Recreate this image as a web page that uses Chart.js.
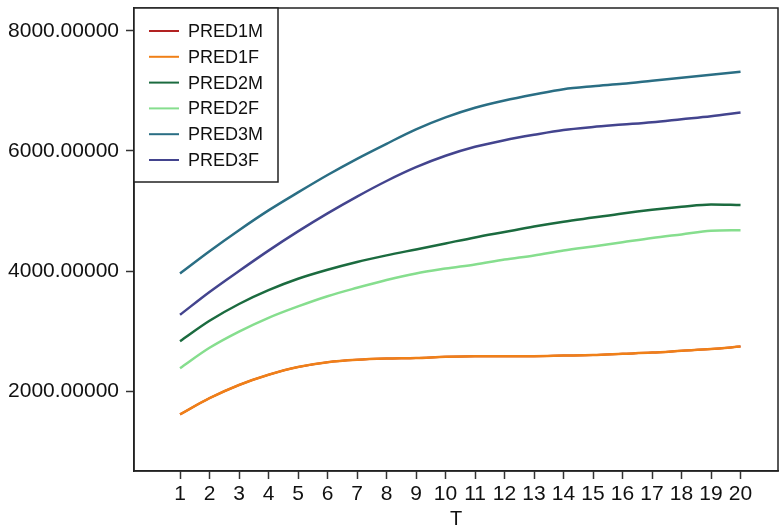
<!DOCTYPE html>
<html><head><meta charset="utf-8">
<script src="https://cdn.jsdelivr.net/npm/chart.js@4"></script>
<style>html,body{margin:0;padding:0;background:#fff}#wrap{width:779px;height:527px}</style>
</head><body><div id="wrap"><canvas id="c" width="779" height="527"></canvas></div>
<script>
const T = [1,2,3,4,5,6,7,8,9,10,11,12,13,14,15,16,17,18,19,20];
const PRED1M = [1610,1880,2100,2270,2400,2480,2520,2540,2550,2570,2580,2580,2580,2590,2600,2620,2640,2670,2700,2740];
const PRED1F = [1610,1880,2100,2270,2400,2480,2520,2540,2550,2570,2580,2580,2580,2590,2600,2620,2640,2670,2700,2740];
const PRED2M = [2830,3170,3450,3680,3870,4020,4150,4260,4360,4460,4560,4650,4740,4820,4890,4960,5020,5070,5110,5100];
const PRED2F = [2380,2720,2990,3220,3410,3580,3720,3850,3960,4040,4110,4190,4260,4340,4410,4480,4550,4610,4670,4680];
const PRED3M = [3960,4330,4680,5010,5310,5600,5870,6120,6360,6560,6720,6840,6940,7030,7080,7120,7170,7220,7270,7320];
const PRED3F = [3270,3650,4000,4340,4660,4960,5240,5500,5730,5920,6070,6180,6270,6350,6400,6440,6480,6530,6580,6640];
const yTicks = [2000,4000,6000,8000];
const seriesNames = ['PRED1M','PRED1F','PRED2M','PRED2F','PRED3M','PRED3F'];
const seriesData = [PRED1M,PRED1F,PRED2M,PRED2F,PRED3M,PRED3F];
const colors = ['#b22222','#f08018','#1b6b3f','#86de8e','#2a6e84','#43448e'];

const FONT = "'Liberation Sans', Arial, Helvetica, sans-serif";

const datasets = seriesNames.map((n,i)=>({
  label:n,
  data:T.map((t,j)=>({x:t,y:seriesData[i][j]})),
  borderColor:colors[i],
  backgroundColor:colors[i],
  borderWidth:i===0?2:2.5,
  pointRadius:0,
  cubicInterpolationMode:'monotone',
  fill:false,
  order: seriesNames.length - i
}));

const framePlugin = {
  id:'frame',
  afterDraw(chart){
    const {ctx, chartArea:a} = chart;
    ctx.save();
    ctx.strokeStyle='#222';
    ctx.lineWidth=1.5;
    ctx.strokeRect(a.left, a.top, a.right-a.left, a.bottom-a.top);
    const lx=a.left, ly=a.top, lw=144, lh=174;
    ctx.fillStyle='#fff';
    ctx.fillRect(lx,ly,lw,lh);
    ctx.strokeRect(lx,ly,lw,lh);
    ctx.font='18px '+FONT;
    ctx.textBaseline='middle';
    ctx.textAlign='left';
    seriesNames.forEach((n,i)=>{
      const y = ly + 23 + i*25.8;
      ctx.strokeStyle=colors[i];
      ctx.lineWidth=2;
      ctx.beginPath(); ctx.moveTo(lx+15,y); ctx.lineTo(lx+45,y); ctx.stroke();
      ctx.fillStyle='#111';
      ctx.fillText(n, lx+54, y+1);
    });
    ctx.restore();
  }
};

new Chart(document.getElementById('c'),{
  type:'line',
  data:{datasets},
  options:{
    responsive:false,
    animation:false,
    layout:{padding:{top:8,right:1,left:0,bottom:0}},
    plugins:{legend:{display:false},tooltip:{enabled:false}},
    scales:{
      x:{
        type:'linear',
        min:-0.56, max:21.27,
        afterBuildTicks(s){ s.ticks = T.map(v=>({value:v})); },
        ticks:{font:{family:FONT,size:21},color:'#111',padding:3,maxRotation:0,autoSkip:false,callback:v=>String(v)},
        grid:{display:true,drawOnChartArea:false,drawTicks:true,tickLength:8,color:'#333',tickWidth:1.5},
        border:{display:true,color:'#222',width:1.5},
        title:{display:true,text:'T',font:{family:FONT,size:20},color:'#111',padding:{top:0,bottom:-4}},
        afterFit(s){ s.height = 56; s.paddingLeft = 0; s.paddingRight = 0; }
      },
      y:{
        type:'linear',
        min:667, max:8383,
        afterBuildTicks(s){ s.ticks = yTicks.map(v=>({value:v})); },
        ticks:{font:{family:FONT,size:21},color:'#111',padding:7,callback:v=>Number(v).toFixed(5)},
        grid:{display:true,drawOnChartArea:false,drawTicks:true,tickLength:8,color:'#333',tickWidth:1.5},
        border:{display:true,color:'#222',width:1.5},
        afterFit(s){ s.width = 134; s.paddingTop = 0; s.paddingBottom = 0; }
      }
    }
  },
  plugins:[framePlugin]
});
</script>
</body></html>
